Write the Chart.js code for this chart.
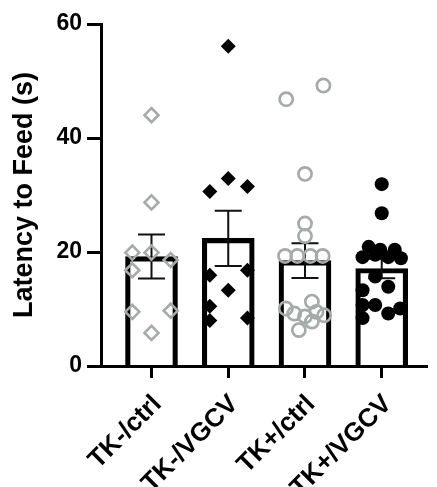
<!DOCTYPE html>
<html><head><meta charset="utf-8">
<script src="https://cdn.jsdelivr.net/npm/chart.js@4.4.0/dist/chart.umd.min.js"></script>
<style>html,body{margin:0;padding:0;background:#fff;} #wrap{width:437px;height:487px;}</style>
</head><body><div id="wrap"><canvas id="c" width="437" height="487"></canvas></div>
<script>
// ---- data ----
const categories = ['TK-/ctrl', 'TK-/VGCV', 'TK+/ctrl', 'TK+/VGCV'];
const yTicks = [0, 20, 40, 60];
const means = [19.2, 22.4, 18.5, 17.1];
const sems = [3.85, 4.85, 3.05, 1.7];
const tkMinusCtrl = [44.0, 28.7, 19.9, 19.9, 18.6, 16.8, 9.5, 9.7, 5.8];
const tkMinusVgcv = [56.1, 32.9, 30.6, 31.5, 15.9, 16.8, 13.3, 10.5, 8.0, 8.4];
const tkPlusCtrl = [46.8, 49.2, 33.7, 25.0, 22.8, 19.3, 19.3, 19.3, 19.3, 10.1, 11.3, 9.2, 8.7, 9.5, 8.9, 7.8, 6.3];
const tkPlusVgcv = [31.9, 26.8, 20.9, 20.4, 20.4, 19.1, 19.5, 19.1, 18.9, 15.7, 13.9, 13.3, 10.7, 10.7, 10.1, 9.2, 8.4];

// ---- layout only: horizontal scatter of the dots (category units) ----
const jitter1 = [0, 0, -0.25, 0, 0.25, -0.25, -0.25, 0.25, 0];
const jitter2 = [0, 0, -0.24, 0.25, -0.24, 0.25, 0, -0.24, -0.24, 0.25];
const jitter3 = [-0.245, 0.24, 0, 0, 0, -0.26, -0.1, 0.07, 0.23, -0.25, 0.09, -0.14, 0, 0.15, 0.25, 0.09, -0.08];
const jitter4 = [0, 0, -0.17, -0.02, 0.17, -0.25, -0.085, 0.085, 0.25, -0.085, 0.085, -0.25, -0.085, -0.25, 0.24, 0.085, -0.25];

const GRAY = '#a5aba9';
const FONT = "'Liberation Sans', Arial, Helvetica, sans-serif";
Chart.defaults.font.family = FONT;

const pts = (vals, jit, k) => vals.map((v, j) => ({ x: k + 1 + jit[j], y: v }));

const errorBars = {
  id: 'errorBars',
  afterDatasetDraw(chart, args) {
    if (args.index !== 0) return;
    const { ctx, scales: { x, y } } = chart;
    ctx.save();
    ctx.strokeStyle = '#111';
    ctx.lineWidth = 2;
    means.forEach((m, i) => {
      const px = x.getPixelForValue(i + 1);
      const hi = y.getPixelForValue(m + sems[i]);
      const lo = y.getPixelForValue(m - sems[i]);
      const cw = 13.5;
      ctx.beginPath();
      ctx.moveTo(px, hi); ctx.lineTo(px, lo);
      ctx.moveTo(px - cw, hi); ctx.lineTo(px + cw, hi);
      ctx.moveTo(px - cw, lo); ctx.lineTo(px + cw, lo);
      ctx.stroke();
    });
    ctx.restore();
  }
};

new Chart(document.getElementById('c'), {
  type: 'bar',
  data: {
    datasets: [
      {
        type: 'bar', order: 10,
        data: means.map((m, i) => ({ x: i + 1, y: m })),
        backgroundColor: 'rgba(255,255,255,0)', borderColor: '#000', borderWidth: 4.5,
        barThickness: 52
      },
      {
        type: 'scatter', order: 0, data: pts(tkMinusCtrl, jitter1, 0),
        pointStyle: 'rectRot', pointRadius: 7, pointHoverRadius: 7,
        pointBackgroundColor: 'rgba(255,255,255,0)', pointBorderColor: GRAY, pointBorderWidth: 2.6
      },
      {
        type: 'scatter', order: 0, data: pts(tkMinusVgcv, jitter2, 1),
        pointStyle: 'rectRot', pointRadius: 7.5, pointHoverRadius: 7.5,
        pointBackgroundColor: '#000', pointBorderColor: '#000', pointBorderWidth: 0
      },
      {
        type: 'scatter', order: 0, data: pts(tkPlusCtrl, jitter3, 2),
        pointStyle: 'circle', pointRadius: 6.6, pointHoverRadius: 6.6,
        pointBackgroundColor: 'rgba(255,255,255,0)', pointBorderColor: GRAY, pointBorderWidth: 2.7
      },
      {
        type: 'scatter', order: 0, data: pts(tkPlusVgcv, jitter4, 3),
        pointStyle: 'circle', pointRadius: 7, pointHoverRadius: 7,
        pointBackgroundColor: '#000', pointBorderColor: '#000', pointBorderWidth: 0
      }
    ]
  },
  options: {
    responsive: false,
    animation: false,
    events: [],
    layout: { padding: { top: 24, right: 0, bottom: 0, left: 0 } },
    plugins: { legend: { display: false }, tooltip: { enabled: false } },
    scales: {
      x: {
        type: 'linear', min: 0.342, max: 4.595, offset: false,
        afterBuildTicks: s => { s.ticks = categories.map((c, i) => ({ value: i + 1 })); },
        afterFit: s => { s.height = 121; },
        ticks: {
          autoSkip: false, minRotation: 45, maxRotation: 45, padding: 11, labelOffset: 6, color: '#000',
          font: { size: 26, weight: 'bold' },
          callback: v => categories[Math.round(v) - 1] || ''
        },
        grid: { offset: false, drawOnChartArea: false, drawTicks: true, tickLength: 12, tickWidth: 3, tickColor: '#000', color: '#000' },
        border: { display: true, color: '#000', width: 3 }
      },
      y: {
        min: 0, max: 60,
        afterBuildTicks: s => { s.ticks = yTicks.map(v => ({ value: v })); },
        afterFit: s => { s.width = 101; },
        ticks: { padding: 5, color: '#000', font: { size: 23, weight: 'bold' } },
        grid: { drawOnChartArea: false, drawTicks: true, tickLength: 14, tickWidth: 3, tickColor: '#000', color: '#000' },
        border: { display: true, color: '#000', width: 3 },
        title: {
          display: true, text: 'Latency to Feed (s)', color: '#000',
          font: { size: 27, weight: 'bold' }, padding: { top: 8, bottom: 0 }
        }
      }
    }
  },
  plugins: [errorBars]
});
</script>
</body></html>
